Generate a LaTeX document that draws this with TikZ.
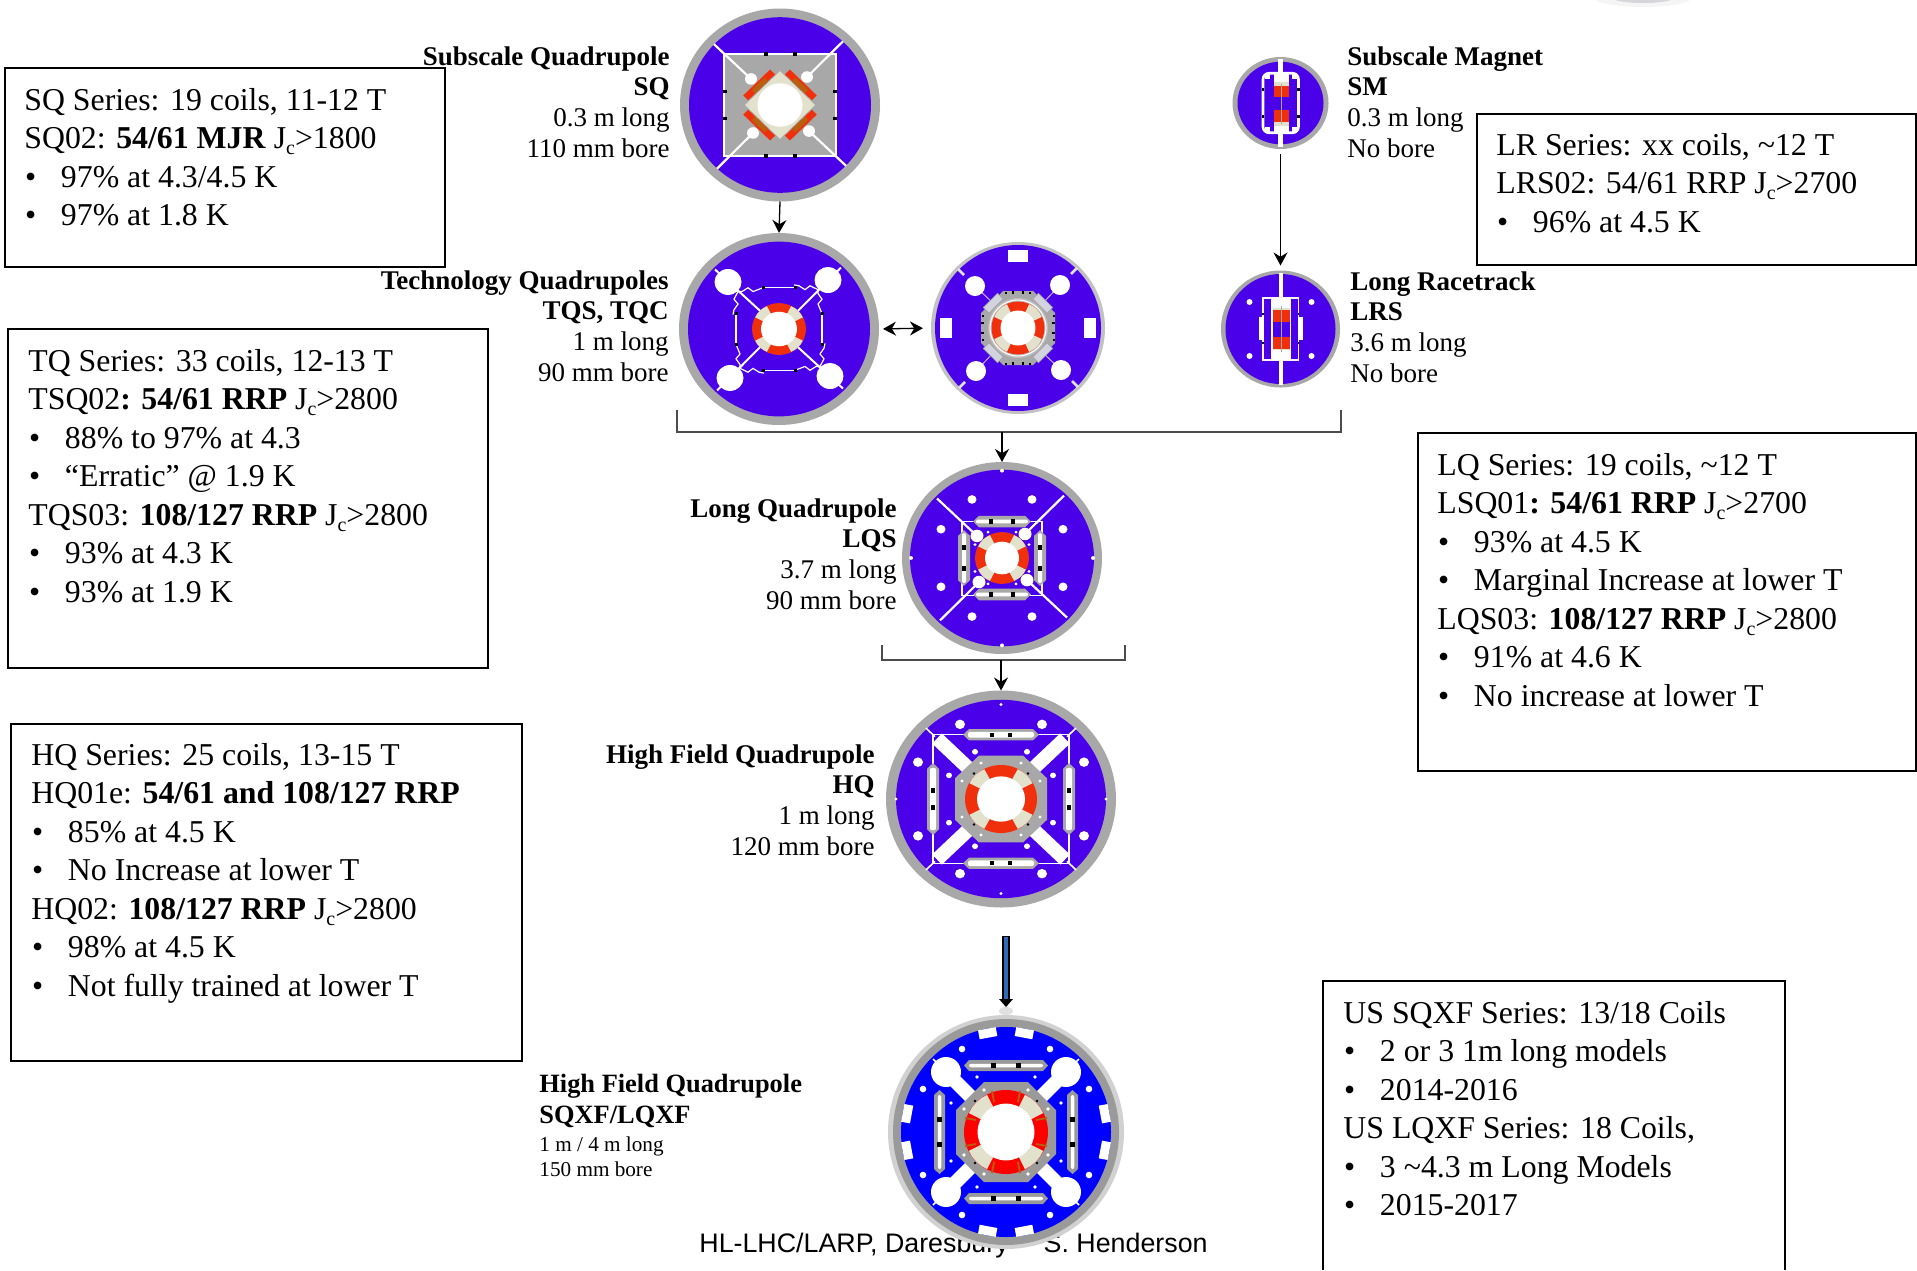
\documentclass[tikz,border=0pt]{standalone}
\usepackage{fontspec}
\setmainfont{Liberation Serif}
\newfontfamily\arialfont{Liberation Sans}
\usetikzlibrary{arrows.meta,shapes.geometric}
\definecolor{violetb}{HTML}{4A00E8}
\definecolor{ringg}{HTML}{A8A8A8}
\definecolor{redc}{HTML}{F0300C}
\definecolor{creamc}{HTML}{E2E2CC}
\definecolor{brownc}{HTML}{B8600F}
\definecolor{darkg}{HTML}{9A9A9A}
\definecolor{arrowblue}{HTML}{2E6AB5}
\newcommand{\jcx}{J\raisebox{-.4ex}{\fontsize{10}{10}\selectfont c}}
\newcommand{\bul}[1]{\makebox[18.3pt][l]{\hspace{.4pt}•}#1}
% black tick
\newcommand{\tk}[3]{\fill[black] ({#1-#3},{#2-#3}) rectangle ({#1+#3},{#2+#3});}
% coil: outer, inner, half angle, red colour
\newcommand{\coil}[4]{%
  \fill[#4] (0,0) circle[radius=#1];
  \foreach \q in {45,135,225,315}{\begin{scope}[rotate=\q]
    \fill[creamc] (0,0) -- (-#3:{#1-.3}) -- ({-#3/2}:{#1-.1}) -- (0:{#1}) -- ({#3/2}:{#1-.1}) -- (#3:{#1-.3}) -- cycle;
  \end{scope}}
  \fill[white] (0,0) circle[radius=#2];}
% chamfered pad with strip: half length, chamfer, ytop, ybot, strip half length, strip width, tick x, tick size, fill
\newcommand{\padbar}[9]{%
  \fill[#9] ({-#1+#2},#3) -- ({#1-#2},#3) -- (#1,{(#3+#4)/2}) -- ({#1-#2},#4) -- ({-#1+#2},#4) -- (-#1,{(#3+#4)/2}) -- cycle;
  \fill[white,rounded corners=1pt] (-#5,{(#3+#4)/2-#6/2}) rectangle (#5,{(#3+#4)/2+#6/2});
  \tk{-#7}{(#3+#4)/2}{#8}\tk{#7}{(#3+#4)/2}{#8}}
\tikzset{
  ringnode/.style={ellipse,fill=ringg,inner sep=0pt,outer sep=0pt},
  arr/.style={-{Stealth[length=6.5pt,width=7pt]},line width=.65pt,black},
  darr/.style={{Stealth[length=6.5pt,width=7pt]}-{Stealth[length=6.5pt,width=7pt]},line width=.65pt,black},
  brk/.style={line width=.6pt,draw={rgb,1:red,.3;green,.3;blue,.3}},
  boxtxt/.style={anchor=north west,inner sep=0pt,align=left,font=\fontsize{15.9}{19.25}\selectfont},
  lab/.style={inner sep=0pt,font=\fontsize{13.5}{15.4}\selectfont},
  boxline/.style={draw=black,line width=.75pt},
}
\begin{document}
\begin{tikzpicture}[x=.5pt,y=-.5pt]
\useasboundingbox (0,0) rectangle (1917,1270);
\fill[white] (0,0) rectangle (1917,1270);
\begin{scope}
\clip (0,0) rectangle (1917,1270);
\fill[black!4] (1643,-2) ellipse[x radius=48,y radius=9];
\fill[blue!8!black!16] (1643,-2) ellipse[x radius=30,y radius=5];
\end{scope}

% ---------- footer (lies under the SQXF magnet)
\node[anchor=base west,inner sep=0pt,font=\arialfont\fontsize{13.4}{16}\selectfont] (foota) at (699,1252) {HL-LHC/LARP, Daresbury};
\node[anchor=base east,inner sep=0pt,font=\arialfont\fontsize{13.4}{16}\selectfont] (footb) at (1208,1252) {S. Henderson};

% ---------- SQ
\node[ringnode,minimum width=100pt,minimum height=96.5pt] (sq) at (780,105) {};
\begin{scope}[shift={(780,105)},yscale=.965]
\fill[violetb] (0,0) circle[radius=91];
\fill[ringg] (-56,-53) rectangle (56,53);
\draw[white,line width=.8pt] (-56,-53) rectangle (56,53);
\foreach \q in {0,90,180,270}{\begin{scope}[rotate=\q]
  \draw[white,line width=1.1pt] (-66,-63) -- (-29,-27);
  \fill[white] (-29,-27) circle[radius=6];
\end{scope}}
\tk{-14.5}{-53}{2}\tk{14.5}{-53}{2}\tk{-14.5}{53}{2}\tk{14.5}{53}{2}
\tk{-55}{-14}{2}\tk{-55}{14}{2}\tk{55}{-14}{2}\tk{55}{14}{2}
\fill[creamc] (35,0) -- (0,35) -- (-35,0) -- (0,-35) -- cycle;
\fill[white] (0,0) circle[radius=22.5];
\foreach \q in {45,135,225,315}{\begin{scope}[rotate=\q]
  \fill[redc] (26,-19) rectangle (33,19);
  \fill[brownc] (26,-9) rectangle (31,9);
\end{scope}}
\end{scope}

% ---------- TQS
\node[ringnode,minimum width=100pt,minimum height=96pt] (tqs) at (779,329) {};
\begin{scope}[shift={(779,329)},yscale=.96]
\fill[violetb] (0,0) circle[radius=91];
\foreach \q in {0,90,180,270}{\begin{scope}[rotate=\q]
  \draw[white,line width=1pt] (-64,-62) -- (-19,-19);
  \fill[white] (-51,-49) circle[radius=13.5];
  \draw[white,line width=.6pt] (-16,-43) -- (16,-43);
  \draw[white,line width=.6pt] (-16,-43) -- (-26,-39) -- (-31,-43) -- (-37,-39) -- (-41,-39) -- (-45,-31) -- (-41,-26) -- (-45,-20) -- (-46,-15);
  \tk{-16}{-43}{1.5}
  \tk{16}{-43}{1.5}
\end{scope}}
\coil{27}{18}{18}{redc}
\end{scope}

% ---------- TQC
\node[ellipse,fill=ringg!70,inner sep=0pt,outer sep=0pt,minimum width=87pt,minimum height=86pt] (tqc) at (1018,328) {};
\begin{scope}[shift={(1018,328)}]
\fill[violetb] (0,0) circle[radius=83];
\foreach \q in {0,90,180,270}{\begin{scope}[rotate=\q]
  \fill[white] (-10,-78) rectangle (10,-66);
  \draw[white!70!violetb,line width=.5pt] (-43,-42) -- (-24,-24);
  \fill[white] (-43,-42) circle[radius=10];
  \draw[ringg!35,line width=1.4pt] (-60,-59) -- (-54,-53);
\end{scope}}
\fill[ringg] (-15,-37) -- (15,-37) -- (37,-15) -- (37,15) -- (15,37) -- (-15,37) -- (-37,15) -- (-37,-15) -- cycle;
\foreach \q in {0,90,180,270}{\begin{scope}[rotate=\q]
  \tk{-5}{-35.5}{1.2}\tk{5}{-35.5}{1.2}\tk{-12}{-35.5}{1}\tk{12}{-35.5}{1}
\end{scope}}
\foreach \q in {45,135,225,315}{\begin{scope}[rotate=\q]
  \fill[blue!6!white!88!black] (-10,-39) rectangle (10,-31);
  \draw[ringg,line width=.4pt] (-10,-39) rectangle (10,-31);
\end{scope}}
\fill[ringg!75] (0,0) circle[radius=30];
\draw[white,line width=.5pt] (0,0) circle[radius=28];
\coil{26.5}{17.5}{20}{redc}
\end{scope}

% ---------- SM
\node[ringnode,minimum width=48pt,minimum height=46pt] (sm) at (1280.5,103) {};
\begin{scope}[shift={(1280.5,103)},yscale=.96]
\fill[violetb] (0,0) circle[radius=43];
\fill[white] (-2.2,-46) rectangle (2.2,46);
\draw[white,line width=1.3pt,rounded corners=3pt] (-17.5,-31) rectangle (18,31);
\fill[violetb] (-15.5,-28) rectangle (16,28);
\fill[white] (-15.5,-31) rectangle (-11,-25);
\fill[white] (11.5,-31) rectangle (16,-25);
\fill[white] (-15.5,31) rectangle (-11,25);
\fill[white] (11.5,31) rectangle (16,25);
\fill[white] (-7,-30) rectangle (8,30);
\fill[creamc] (-7,-22) rectangle (8,24);
\fill[violetb] (-7,-6) rectangle (8,7);
\fill[redc] (-7,-18) rectangle (8,-6);
\fill[redc] (-7,7) rectangle (8,20);
\draw[ringg,line width=.5pt] (.5,-20) -- (.5,22);
\tk{-17.5}{-14}{1.2}\tk{-17.5}{14}{1.2}\tk{18}{-14}{1.2}\tk{18}{14}{1.2}
\end{scope}

% ---------- LRS
\node[ringnode,minimum width=59.5pt,minimum height=58.5pt] (lrs) at (1280.5,329) {};
\begin{scope}[shift={(1280.5,329)}]
\fill[violetb] (0,0) circle[radius=55];
\fill[white] (-2,-56) rectangle (2,56);
\draw[white!80!pink,line width=.6pt] (-17.5,-31) rectangle (18,31);
\fill[white] (-10,-31) rectangle (10.5,31);
\fill[creamc] (-8,-21) rectangle (9,21);
\fill[violetb] (-8,-7) rectangle (9,8);
\fill[redc] (-8,-19) rectangle (9,-7);
\fill[redc] (-8,8) rectangle (9,20);
\draw[ringg,line width=.4pt] (.5,-23) -- (.5,23);
\fill[white] (-22,-12) rectangle (-17,11);
\fill[white] (17.5,-12) rectangle (22.5,11);
\foreach \a/\b in {-31/-27,31/-27,-31/27,31/27}{\fill[white] (\a,\b) circle[radius=3];}
\tk{-17.5}{-15}{.9}\tk{-17.5}{14}{.9}\tk{18}{-15}{.9}\tk{18}{14}{.9}
\end{scope}

% ---------- LQS
\node[ringnode,minimum width=100pt,minimum height=96pt] (lqs) at (1002,558) {};
\begin{scope}[shift={(1002,558)},yscale=.96]
\fill[violetb] (0,0) circle[radius=92];
\foreach \a/\b in {-30/-61,30/-61,-30/61,30/61,-61/-30,61/-30,-61/30,61/30}{\fill[white] (\a,\b) circle[radius=4.5];}
\foreach \a/\b in {0/-91,0/91,-91/0,91/0}{\fill[white] (\a,\b) circle[radius=2];}
\foreach \a/\b in {-14/-27,14/-27,-14/27,14/27,-27/-14,27/-14,-27/14,27/14}{\fill[white] (\a,\b) circle[radius=1.6];}
\draw[white,line width=.6pt] (-40,-38) rectangle (40,39);
\foreach \q in {0,90,180,270}{\begin{scope}[rotate=\q]
  \draw[white,line width=1.1pt] (-65,-62) -- (-25,-23);
  \fill[white] (-25,-23) circle[radius=6.5];
  \padbar{29}{6}{-44}{-32}{26}{4}{11}{2.3}{ringg}
\end{scope}}
\coil{27}{17}{18}{redc}
\end{scope}

% ---------- HQ
\node[ringnode,minimum width=115pt,minimum height=108.5pt] (hq) at (1001,799) {};
\begin{scope}[shift={(1001,799)},yscale=.945]
\fill[violetb] (0,0) circle[radius=105];
\foreach \a/\b in {-41/-79,41/-79,-41/79,41/79,-83/-39,83/-39,-83/39,83/39}{\fill[white] (\a,\b) circle[radius=5];}
\foreach \a/\b in {-26/-50,26/-50,-26/50,26/50,-52/-25,52/-25,-52/25,52/25}{\fill[white] (\a,\b) circle[radius=3];}
\foreach \a/\b in {0/-100,0/100,-105/0,105/0}{\fill[white] (\a,\b) circle[radius=1.6];}
\draw[white,line width=.6pt] (-68,-68) rectangle (68,68);
\foreach \q in {0,90,180,270}{\begin{scope}[rotate=\q]
  \draw[white,line width=.8pt] (-75,-75) -- (-66,-66);
  \draw[white,line width=7pt] (-64,-64) -- (-30,-30);
  \padbar{38}{6}{-74}{-62}{33}{6}{9}{2.3}{ringg}
\end{scope}}
\fill[ringg] (-22,-46) -- (22,-46) -- (46,-22) -- (46,22) -- (22,46) -- (-22,46) -- (-46,22) -- (-46,-22) -- cycle;
\foreach \a/\b in {-20/-38,20/-38,-20/38,20/38,-39/-19,39/-19,-39/19,39/19}{\fill[white] (\a,\b) circle[radius=1.7];}
\foreach \a/\b in {-27/-27,27/-27,-27/27,27/27}{\fill[black] (\a,\b) circle[radius=1.4];}
\coil{36}{24}{17}{redc}
\end{scope}

% ---------- SQXF
\node[ellipse,fill=black!18,inner sep=0pt,outer sep=0pt,minimum width=118pt,minimum height=117pt] (sqxf) at (1006,1132) {};
\begin{scope}[shift={(1006,1132)}]
\fill[darkg] (0,0) circle[radius=113];
\fill[blue] (0,0) circle[radius=105];
\foreach \q in {0,90,180,270}{\begin{scope}[rotate=\q]
  \begin{scope}[rotate=-10.5]\fill[white] (-9,-105) rectangle (9,-96);\end{scope}
  \begin{scope}[rotate=10.5]\fill[white] (-9,-105) rectangle (9,-96);\end{scope}
  \draw[white,line width=.8pt] (-73,-73) -- (-68,-68);
  \draw[white,line width=7pt] (-60,-60) -- (-30,-30);
  \fill[white] (-60,-60) circle[radius=15];
  \padbar{42}{5}{-72}{-61}{37}{3.5}{12.5}{2.3}{darkg}
\end{scope}}
\foreach \a/\b in {-44/-83,44/-83,-44/83,44/83,-83/-43,83/-43,-83/43,83/43}{\fill[white] (\a,\b) circle[radius=3.3];}
\foreach \a/\b in {-29/-55,29/-55,-29/55,29/55,-55/-29,55/-29,-55/29,55/29}{\fill[white] (\a,\b) circle[radius=1.8];}
\fill[darkg] (-22,-50) -- (22,-50) -- (50,-22) -- (50,22) -- (22,50) -- (-22,50) -- (-50,22) -- (-50,-22) -- cycle;
\foreach \a/\b in {-22/-42,22/-42,-22/42,22/42,-42/-23,42/-23,-42/23,42/23}{\fill[white] (\a,\b) circle[radius=1.9];}
\foreach \a/\b in {-31/-31,31/-31,-31/31,31/31}{\fill[black] (\a,\b) circle[radius=1.4];}
\coil{42}{28.4}{18}{red}
\foreach \q in {0,90,180,270}{\begin{scope}[rotate=\q]
  \draw[brownc,line width=.9pt] (-12,-30) -- (-14,-41);
  \draw[brownc,line width=.9pt] (12,-30) -- (14,-41);
\end{scope}}
\end{scope}

% ---------- connectors
\draw[arr] (sq.south) -- (tqs.north);
\draw[arr,shorten <=2.5pt,shorten >=2.5pt] (sm.south) -- (lrs.north);
\draw[darr,shorten <=2pt,shorten >=4pt] (tqs.east) -- (tqc.west);
\coordinate (bl) at (677,410);
\coordinate (blc) at (677,432);
\coordinate (brc) at (1341,432);
\coordinate (br) at (1341,410);
\coordinate (bm) at (1002,432);
\draw[brk] (bl) -- (blc) -- (brc) -- (br);
\draw[arr] (bm) -- (lqs.north);
\coordinate (cl) at (882,645);
\coordinate (clc) at (882,660);
\coordinate (crc) at (1125,660);
\coordinate (cr) at (1125,645);
\coordinate (cm) at (1001,660);
\draw[brk] (cl) -- (clc) -- (crc) -- (cr);
\draw[arr] (cm) -- (hq.north);
\coordinate (bt) at (1006,936);
\coordinate (bs) at (1006,999);
\coordinate (bb) at (1006,1007);
\fill[black!12] (1006,1011) ellipse[x radius=7,y radius=4];
\draw[black,line width=3.6pt] (bt) -- (bs);
\draw[arrowblue,line width=2.4pt] ([yshift=-.6pt]bt) -- (bs);
\fill[black] (999,999) -- (1013,999) -- (bb) -- cycle;

% ---------- magnet labels
\node[lab,anchor=north east,align=right] (lsq) at (670,46) {\textbf{Subscale Quadrupole}\\\textbf{SQ}\\0.3 m long\\110 mm bore};
\node[lab,anchor=north east,align=right] (ltq) at (669,270) {\textbf{Technology Quadrupoles}\\\textbf{TQS, TQC}\\1 m long\\90 mm bore};
\node[lab,anchor=north east,align=right] (llq) at (897,498) {\textbf{Long Quadrupole}\\\textbf{LQS}\\3.7 m long\\90 mm bore};
\node[lab,anchor=north east,align=right] (lhq) at (875,744) {\textbf{High Field Quadrupole}\\\textbf{HQ}\\1 m long\\120 mm bore};
\node[lab,anchor=north west,align=left] (lsm) at (1347,46) {\textbf{Subscale Magnet}\\\textbf{SM}\\0.3 m long\\No bore};
\node[lab,anchor=north west,align=left] (llr) at (1350,271) {\textbf{Long Racetrack}\\\textbf{LRS}\\3.6 m long\\No bore};
\node[anchor=north west,inner sep=0pt,align=left,font=\fontsize{13.2}{15.4}\selectfont] (lxf) at (539,1074) {\textbf{High Field Quadrupole}\\\textbf{SQXF/LQXF}};
\node[anchor=north west,inner sep=0pt,align=left,font=\fontsize{10.6}{12.9}\selectfont] (lxg) at (539,1136) {1 m / 4 m long\\150 mm bore};

% ---------- info boxes
\draw[boxline] (5,68) rectangle (445,267);
\node[boxtxt] (tsq) at (24,88) {SQ Series: 19 coils, 11-12 T\\SQ02: \textbf{54/61 MJR} \jcx{}>1800\\\bul{97\% at 4.3/4.5 K}\\\bul{97\% at 1.8 K}};
\draw[boxline] (1477,114) rectangle (1916,265);
\node[boxtxt] (tlr) at (1496,133) {LR Series: xx coils, \textasciitilde12 T\\LRS02: 54/61 RRP \jcx{}>2700\\\bul{96\% at 4.5 K}};
\draw[boxline] (8,329) rectangle (488,668);
\node[boxtxt] (ttq) at (28,349) {TQ Series: 33 coils, 12-13 T\\TSQ02\textbf{: 54/61 RRP} \jcx{}>2800\\\bul{88\% to 97\% at 4.3}\\\bul{“Erratic” @ 1.9 K}\\TQS03: \textbf{108/127 RRP} \jcx{}>2800\\\bul{93\% at 4.3 K}\\\bul{93\% at 1.9 K}};
\draw[boxline] (1418,433) rectangle (1916,771);
\node[boxtxt] (tlq) at (1437,453) {LQ Series: 19 coils, \textasciitilde12 T\\LSQ01\textbf{: 54/61 RRP} \jcx{}>2700\\\bul{93\% at 4.5 K}\\\bul{Marginal Increase at lower T}\\LQS03: \textbf{108/127 RRP} \jcx{}>2800\\\bul{91\% at 4.6 K}\\\bul{No increase at lower T}};
\draw[boxline] (11,724) rectangle (522,1061);
\node[boxtxt] (thq) at (31,743) {HQ Series: 25 coils, 13-15 T\\HQ01e: \textbf{54/61 and 108/127 RRP}\\\bul{85\% at 4.5 K}\\\bul{No Increase at lower T}\\HQ02: \textbf{108/127 RRP} \jcx{}>2800\\\bul{98\% at 4.5 K}\\\bul{Not fully trained at lower T}};
\draw[boxline] (1323,1270) -- (1323,981) -- (1785,981) -- (1785,1270);
\node[boxtxt] (tus) at (1343,1001) {US SQXF Series: 13/18 Coils\\\bul{2 or 3 1m long models}\\\bul{2014-2016}\\US LQXF Series: 18 Coils,\\\bul{3 \textasciitilde4.3 m Long Models}\\\bul{2015-2017}};
\end{tikzpicture}
\end{document}
